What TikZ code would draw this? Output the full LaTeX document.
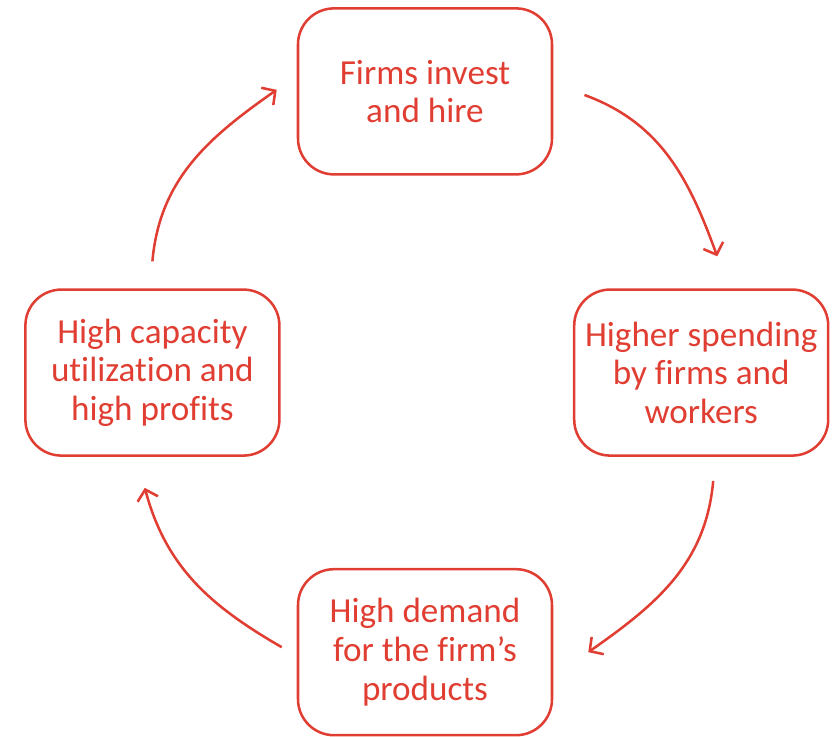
\documentclass[tikz,border=0pt]{standalone}
\usepackage{fontspec}
\setmainfont{Carlito}[Ligatures=NoCommon]
\usetikzlibrary{arrows.meta}
\definecolor{cyclered}{RGB}{224,62,50}
\tikzset{
	stage/.style={draw=cyclered, line width=1.8pt, rounded corners=0.9cm,
		minimum width=6.35cm, minimum height=4.15cm, inner sep=0pt,
		text=cyclered, align=center, font=\fontsize{25}{27.5}\selectfont},
	cycarrow/.style={draw=cyclered, line width=1.8pt,
		-{Straight Barb[length=7pt,width=15pt,line width=1.8pt]}}
}
\begin{document}
\begin{tikzpicture}
	\useasboundingbox (0,0) rectangle (20.95,18.425);
	
	%boxes
	\node[stage] (invest) at (10.625,16.14) {Firms invest\\and hire};
	\node[stage] (spend)  at (17.53,9.11)   {Higher spending\\by firms and\\workers};
	\node[stage] (demand) at (10.625,2.12)  {High demand\\for the firm’s\\products};
	\node[stage] (profit) at (3.81,9.11)    {High capacity\\utilization and\\high profits};
	
	%arrows
	\draw[cycarrow] ([xshift=0.78cm,yshift=-0.09cm]invest.east) to[out=-20,in=110] ([xshift=0.4cm,yshift=0.8cm]spend.north);
	\draw[cycarrow] ([xshift=0.3cm,yshift=-0.6cm]spend.south) to[out=-95,in=35] ([xshift=0.875cm]demand.east);
	\draw[cycarrow] ([xshift=-0.375cm,yshift=0.125cm]demand.west) to[out=150,in=-75] ([xshift=-0.19cm,yshift=-0.775cm]profit.south);
	\draw[cycarrow] ([yshift=0.675cm]profit.north) to[out=85,in=215] ([xshift=-0.5cm,yshift=0.04cm]invest.west);
	
	%\draw[help lines] (0,0) grid (21,18);
\end{tikzpicture}
\end{document}
